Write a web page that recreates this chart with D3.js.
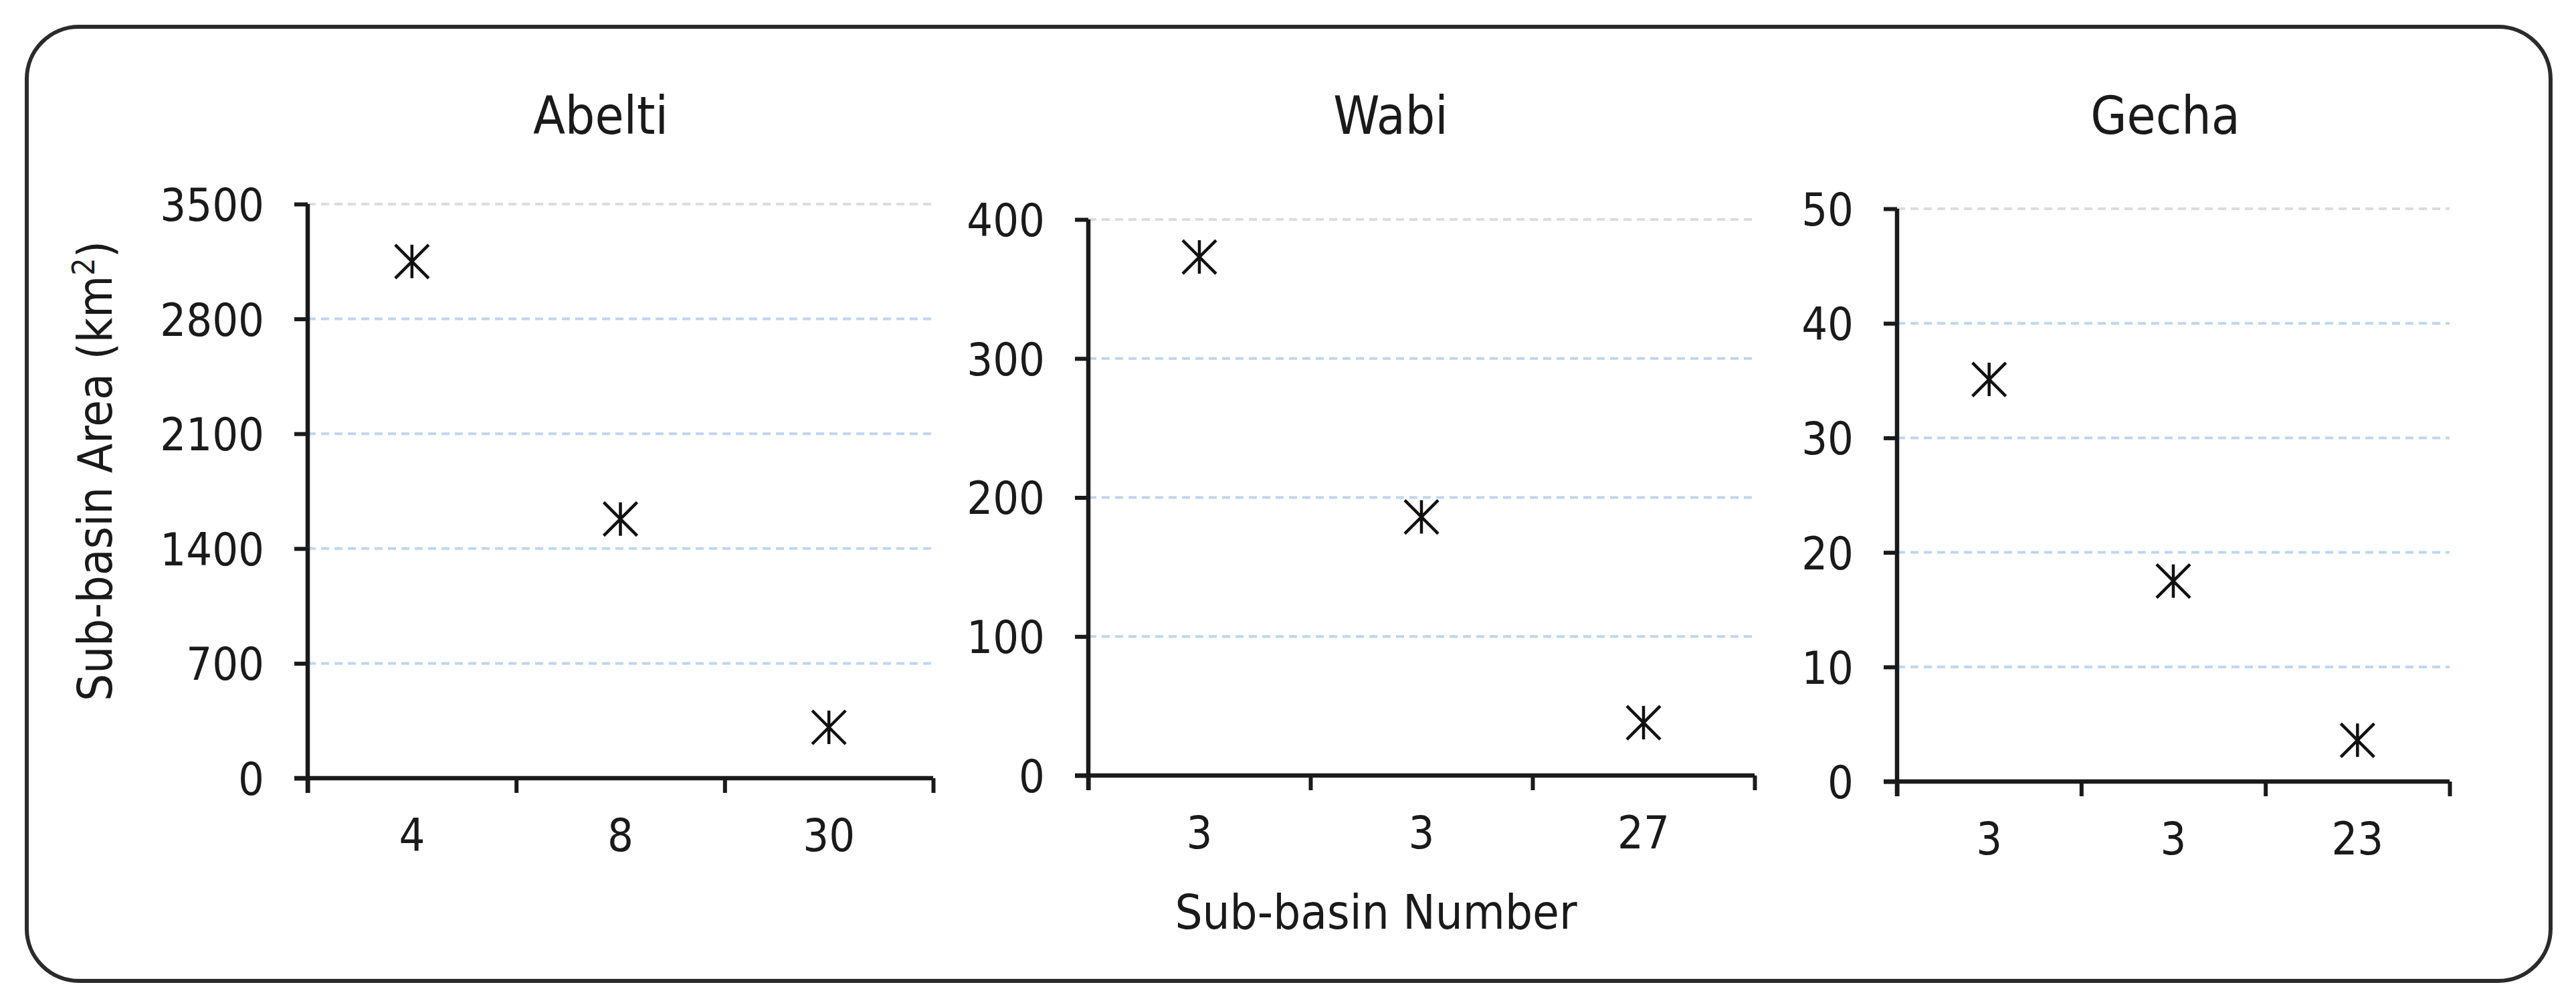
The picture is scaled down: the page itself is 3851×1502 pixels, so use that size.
<!DOCTYPE html>
<html>
<head>
<meta charset="utf-8">
<script src="https://cdn.jsdelivr.net/npm/d3@7"></script>
<style>
  body { margin: 0; background: #fff; }
  svg text { font-family: "DejaVu Sans Condensed", "DejaVu Sans", sans-serif; font-stretch: condensed; fill: #1a1a1a; }
</style>
</head>
<body>
<div id="chart"></div>
<script>
// values
const panelNames = ["Abelti", "Wabi", "Gecha"];

const abeltiSubbasins = ["4", "8", "30"];
const abeltiAreas = [3150, 1580, 310];
const abeltiTicks = [0, 700, 1400, 2100, 2800, 3500];

const wabiSubbasins = ["3", "3", "27"];
const wabiAreas = [373, 186, 38];
const wabiTicks = [0, 100, 200, 300, 400];

const gechaSubbasins = ["3", "3", "23"];
const gechaAreas = [35.1, 17.5, 3.6];
const gechaTicks = [0, 10, 20, 30, 40, 50];

const yTitle = "Sub-basin Area (km";
const xTitle = "Sub-basin Number";

const width = 3851, height = 1502;

// plot boxes measured on the reference
const panels = [
    { name: panelNames[0], cats: abeltiSubbasins, vals: abeltiAreas, ticks: abeltiTicks,
      x0: 460, x1: 1395, y0: 1163, y1: 305, titleX: 898 },
    { name: panelNames[1], cats: wabiSubbasins, vals: wabiAreas, ticks: wabiTicks,
      x0: 1627, x1: 2623, y0: 1159, y1: 328, titleX: 2079 },
    { name: panelNames[2], cats: gechaSubbasins, vals: gechaAreas, ticks: gechaTicks,
      x0: 2836, x1: 3662, y0: 1168, y1: 312, titleX: 3237 }
];

const svg = d3.select("#chart").append("svg")
    .attr("width", width)
    .attr("height", height);

svg.append("rect")
    .attr("x", 40).attr("y", 40)
    .attr("width", 3773).attr("height", 1426)
    .attr("rx", 78).attr("ry", 78)
    .attr("fill", "#fff")
    .attr("stroke", "#2b2b2b")
    .attr("stroke-width", 6);

// asterisk marker: vertical bar plus a 45 degree cross
const asterisk = {
    draw(context, size) {
        const r = Math.sqrt(size) / 2;
        context.moveTo(0, -r); context.lineTo(0, r);
        context.moveTo(-r, -r); context.lineTo(r, r);
        context.moveTo(-r, r); context.lineTo(r, -r);
    }
};

panels.forEach((p) => {
    const g = svg.append("g");
    const n = p.cats.length;
    const yMax = d3.max(p.ticks);

    const y = d3.scaleLinear().domain([0, yMax]).range([p.y0, p.y1]);
    const xEdge = d3.scaleLinear().domain([0, n]).range([p.x0, p.x1]);
    const xBand = d3.scaleBand().domain(d3.range(n)).range([p.x0, p.x1]);

    // dashed gridlines
    g.selectAll(".grid")
        .data(p.ticks.filter((t) => t > 0))
        .enter()
        .append("line")
        .attr("class", "grid")
        .attr("x1", p.x0).attr("x2", p.x1)
        .attr("y1", (t) => y(t)).attr("y2", (t) => y(t))
        .attr("stroke", (t) => t === yMax ? "#dcdcdc" : "#bfd5ee")
        .attr("stroke-width", 4)
        .attr("stroke-dasharray", "12 8");

    // y axis
    const yAxis = g.append("g")
        .attr("transform", `translate(${p.x0},0)`)
        .call(d3.axisLeft(y).tickValues(p.ticks).tickFormat(d3.format("d"))
            .tickSize(20).tickSizeOuter(0).tickPadding(45));
    yAxis.select(".domain").attr("stroke", "#1a1a1a").attr("stroke-width", 6.5)
        .attr("d", `M0,${p.y0 + 22}V${p.y1}`);
    yAxis.selectAll(".tick line").attr("stroke", "#1a1a1a").attr("stroke-width", 6);
    yAxis.selectAll(".tick text")
        .attr("font-size", 68)
        .attr("font-family", null)
        .attr("fill", null)
        .attr("dy", "0.36em");

    // x axis: ticks at category edges
    const xTicks = g.append("g")
        .attr("transform", `translate(0,${p.y0})`)
        .call(d3.axisBottom(xEdge).tickValues(d3.range(n + 1)).tickSize(22).tickSizeOuter(0).tickFormat(""));
    xTicks.select(".domain").attr("stroke", "#1a1a1a").attr("stroke-width", 6.5)
        .attr("d", `M${p.x0 - 20},0H${p.x1}`);
    xTicks.selectAll(".tick line").attr("stroke", "#1a1a1a").attr("stroke-width", 6);

    // category labels at band centres
    const xLabels = g.append("g")
        .attr("transform", `translate(0,${p.y0})`)
        .call(d3.axisBottom(xBand).tickSize(0).tickFormat((i) => p.cats[i]));
    xLabels.select(".domain").remove();
    xLabels.selectAll(".tick text")
        .attr("font-size", 68)
        .attr("font-family", null)
        .attr("fill", null)
        .attr("y", 109)
        .attr("dy", 0);

    // markers
    g.selectAll(".pt")
        .data(p.vals)
        .enter()
        .append("path")
        .attr("class", "pt")
        .attr("transform", (v, i) => `translate(${xBand(i) + xBand.bandwidth() / 2},${y(v)})`)
        .attr("d", d3.symbol().type(asterisk).size(2500))
        .attr("fill", "none")
        .attr("stroke", "#111")
        .attr("stroke-width", 4.5);

    // panel title
    g.append("text")
        .attr("x", p.titleX)
        .attr("y", 200)
        .attr("text-anchor", "middle")
        .attr("font-size", 78)
        .text(p.name);
});

// axis titles
const yt = svg.append("text")
    .attr("transform", "translate(167,704) rotate(-90)")
    .attr("text-anchor", "middle")
    .attr("font-size", 72);
yt.append("tspan").text(yTitle);
yt.append("tspan").attr("font-size", 46).attr("dy", -26).text("2");
yt.append("tspan").attr("dy", 26).text(")");

svg.append("text")
    .attr("x", 2057)
    .attr("y", 1388)
    .attr("text-anchor", "middle")
    .attr("font-size", 72)
    .text(xTitle);
</script>
</body>
</html>
